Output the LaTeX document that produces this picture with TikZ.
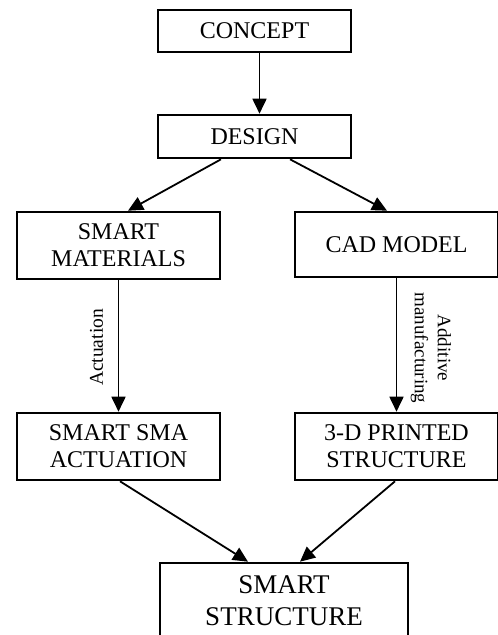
\documentclass[tikz,border=0pt]{standalone}
\usepackage{fontspec}
\setmainfont{Liberation Serif}
\usetikzlibrary{arrows.meta}
\begin{document}
\begin{tikzpicture}[x=1pt, y=1pt, >={Triangle[width=14pt,length=15pt]},
  box/.style={draw, line width=2.6pt, align=center, inner sep=0pt, font=\fontsize{24}{27}\selectfont},
  flow/.style={->, line width=1.8pt}]
\useasboundingbox (0,0) rectangle (498,-635);
\node[box, minimum width=193, minimum height=42] (concept) at (254.5,-31) {CONCEPT};
\node[box, minimum width=193, minimum height=43] (design) at (254.5,-136.5) {DESIGN};
\node[box, minimum width=203, minimum height=67] (smat) at (118.5,-245.5) {SMART\\MATERIALS};
\node[box, minimum width=203, minimum height=65] (cad) at (396.5,-244.5) {CAD MODEL};
\node[box, minimum width=203, minimum height=67] (sma) at (118.5,-446.5) {SMART SMA\\ACTUATION};
\node[box, minimum width=203, minimum height=67] (print) at (396.5,-446.5) {3-D PRINTED\\STRUCTURE};
\node[box, minimum width=248, minimum height=76, font=\fontsize{27}{32}\selectfont] (smart) at (284,-601) {SMART\\STRUCTURE};
\draw[flow] ([xshift=5pt]concept.south) -- ([xshift=5pt]design.north);
\draw[flow] ([xshift=-33.5pt]design.south) -- ([xshift=9.5pt]smat.north);
\draw[flow] ([xshift=35.5pt]design.south) -- ([xshift=-9.5pt]cad.north);
\draw[flow] (smat.south) -- (sma.north);
\draw[flow] (cad.south) -- (print.north);
\draw[flow] ([xshift=1.5pt]sma.south) -- ([xshift=-36pt]smart.north);
\draw[flow] ([xshift=-1.5pt]print.south) -- ([xshift=16pt]smart.north);
\node[rotate=90, font=\fontsize{19.5}{23}\selectfont] (act) at (96.5,-347.5) {Actuation};
\node[rotate=-90, align=center, font=\fontsize{19}{23}\selectfont] (am) at (431,-348) {Additive\\manufacturing};
\end{tikzpicture}
\end{document}
